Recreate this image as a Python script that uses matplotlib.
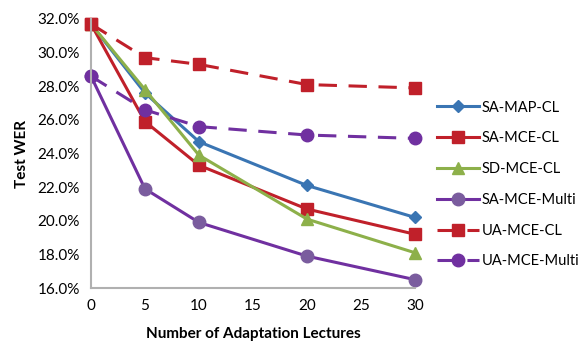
import matplotlib
matplotlib.use("Agg")
import matplotlib.pyplot as plt
from matplotlib.ticker import FuncFormatter

plt.rcParams['font.family'] = ['Lato', 'DejaVu Sans']

lectures = [0, 5, 10, 20, 30]
sa_map_cl = [31.7, 27.6, 24.7, 22.1, 20.2]
sa_mce_cl = [31.7, 25.9, 23.3, 20.7, 19.2]
sd_mce_cl = [31.7, 27.8, 23.9, 20.1, 18.1]
sa_mce_multi = [28.6, 21.9, 19.9, 17.9, 16.5]
ua_mce_cl = [31.7, 29.7, 29.3, 28.1, 27.9]
ua_mce_multi = [28.6, 26.6, 25.6, 25.1, 24.9]

blue = '#3A75B3'
red = '#C0202A'
green = '#8DB04A'
purple = '#7030A0'
purple_light = '#7A5C9E'

fig = plt.figure(figsize=(5.87, 3.45), dpi=100)
ax = fig.add_axes([0.155, 0.165, 0.552, 0.78])

lw = 2.2
dash = (0, (6.0, 3.8))
ax.plot(lectures, sa_map_cl, color=blue, lw=lw, marker='D', ms=6,
        label='SA-MAP-CL')
ax.plot(lectures, sa_mce_cl, color=red, lw=lw, marker='s', ms=8,
        label='SA-MCE-CL')
ax.plot(lectures, sd_mce_cl, color=green, lw=lw, marker='^', ms=9,
        label='SD-MCE-CL')
ax.plot(lectures, sa_mce_multi, color=purple, lw=lw, marker='o', ms=9,
        mfc=purple_light, mec=purple_light, label='SA-MCE-Multi')
ax.plot(lectures, ua_mce_cl, color=red, lw=lw, ls=dash, marker='s', ms=9,
        label='UA-MCE-CL')
ax.plot(lectures, ua_mce_multi, color=purple, lw=lw, ls=dash, marker='o', ms=9,
        label='UA-MCE-Multi')

ax.set_xlim(0, 30)
ax.set_ylim(16, 32)
ax.set_xticks(range(0, 31, 5))
ax.set_yticks(range(16, 33, 2))
ax.yaxis.set_major_formatter(FuncFormatter(lambda v, p: f'{v:.1f}%'))
ax.tick_params(length=0, labelsize=11, pad=8)
for s in ['top', 'right']:
    ax.spines[s].set_visible(False)
for s in ['left', 'bottom']:
    ax.spines[s].set_color('#B0B0B0')
    ax.spines[s].set_linewidth(1.5)

ax.set_xlabel('Number of Adaptation Lectures', fontsize=11, fontweight='bold', labelpad=10)
ax.set_ylabel('Test WER', fontsize=11, fontweight='bold', labelpad=6)

for line in ax.lines:
    line.set_clip_on(False)

ax.legend(loc='center left', bbox_to_anchor=(1.04, 0.385), frameon=False,
          fontsize=10.5, handlelength=2.9, labelspacing=1.15, handletextpad=0.2,
          borderaxespad=0.2)

fig.savefig('out.png', dpi=100)
